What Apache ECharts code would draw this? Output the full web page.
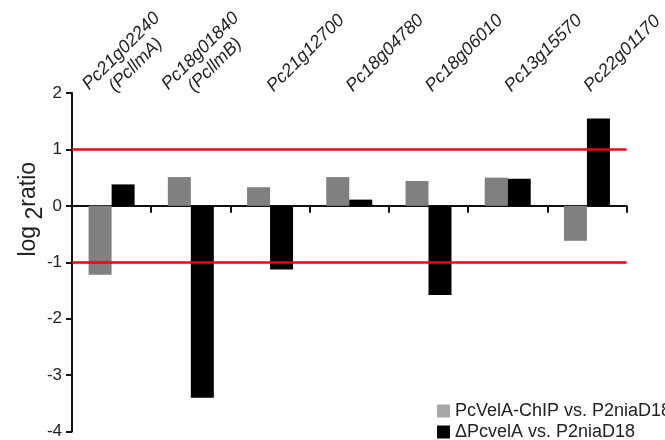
<!DOCTYPE html>
<html>
<head>
<meta charset="utf-8">
<script src="https://cdn.jsdelivr.net/npm/echarts@6/dist/echarts.min.js"></script>
<style>
  html, body { margin: 0; padding: 0; background: #fff; }
  #chart { width: 665px; height: 440px; }
</style>
</head>
<body>
<div id="chart"></div>
<script>
// genes (second line = alias)
var genes = ['Pc21g02240\n(PcllmA)', 'Pc18g01840\n(PcllmB)', 'Pc21g12700', 'Pc18g04780', 'Pc18g06010', 'Pc13g15570', 'Pc22g01170'];
var chipRatio = [-1.22, 0.51, 0.33, 0.51, 0.44, 0.50, -0.62];
var deltaRatio = [0.38, -3.40, -1.13, 0.11, -1.58, 0.48, 1.55];
var yTicks = [-4, -3, -2, -1, 0, 1, 2];
var cutoffs = [1, -1];
var seriesNames = ['PcVelA-ChIP vs. P2niaD18', '\u0394PcvelA vs. P2niaD18'];
var legendColors = ['#a6a6a6', '#000'];

var chart = echarts.init(document.getElementById('chart'));

var font = '"Liberation Sans", Arial, sans-serif';

// one legend box per entry so both rows fit under the plot
function legendRow(i, top) {
  return {
    orient: 'vertical',
    left: 437,
    top: top,
    padding: 0,
    itemWidth: 13,
    itemHeight: 13,
    icon: 'rect',
    textStyle: { fontSize: 18, color: '#222', fontFamily: font },
    data: [{ name: seriesNames[i], itemStyle: { color: legendColors[i] } }]
  };
}

chart.setOption({
  animation: false,
  textStyle: { fontFamily: font },
  grid: { left: 72, right: 25, top: 93, bottom: 6, containLabel: false },
  legend: [legendRow(0, 402), legendRow(1, 423)],
  xAxis: [
    {
      // label-only axis on top
      type: 'category',
      data: genes,
      position: 'top',
      axisLine: { show: false, onZero: false },
      axisTick: { show: false },
      axisLabel: {
        interval: 0,
        rotate: -45,
        margin: 4,
        fontSize: 18,
        fontStyle: 'italic',
        color: '#222',
        fontFamily: font,
        formatter: function (v) {
          var p = v.split('\n');
          if (p.length < 2) return '{s|' + p[0] + '}';
          // alias line stays on the tick, gene id above it, blank line keeps the block centred
          return '{a|' + p[0] + '}\n{b|' + p[1] + '}\n{e| }';
        },
        rich: {
          s: { fontSize: 18, fontStyle: 'italic', color: '#222', lineHeight: 20 },
          a: { fontSize: 18, fontStyle: 'italic', color: '#222', lineHeight: 20, padding: [0, 0, 0, -17] },
          b: { fontSize: 18, fontStyle: 'italic', color: '#222', lineHeight: 20 },
          e: { fontSize: 18, lineHeight: 20 }
        }
      }
    },
    {
      // zero line with boundary ticks
      type: 'category',
      data: genes,
      position: 'bottom',
      axisLine: { onZero: true, onZeroAxisIndex: 0, lineStyle: { color: '#111', width: 2 } },
      axisTick: { show: true, interval: 0, length: 7, lineStyle: { color: '#111', width: 2 } },
      axisLabel: { show: false }
    }
  ],
  yAxis: {
    type: 'value',
    min: yTicks[0],
    max: yTicks[yTicks.length - 1],
    interval: 1,
    splitLine: { show: false },
    axisLine: { show: true, lineStyle: { color: '#111', width: 2 } },
    axisTick: { show: true, length: 6, lineStyle: { color: '#111', width: 2 } },
    axisLabel: { fontSize: 17, color: '#222', margin: 10, fontFamily: font },
    name: '{a|log }{s|2}{a|ratio}',
    nameLocation: 'middle',
    nameMoveOverlap: false,
    nameGap: 25,
    nameRotate: 90,
    nameTextStyle: {
      fontSize: 23,
      color: '#222',
      padding: [0, 0, 0, 106],
      rich: {
        a: { fontSize: 23, color: '#222' },
        s: { fontSize: 23, color: '#222', padding: [14, 0, 0, 0] }
      }
    }
  },
  series: [
    {
      name: seriesNames[0],
      type: 'bar',
      xAxisIndex: 1,
      data: chipRatio,
      barWidth: 23,
      barGap: '0%',
      itemStyle: { color: '#808080' },
      markLine: {
        silent: true,
        symbol: 'none',
        label: { show: false },
        lineStyle: { color: '#e3000f', width: 2.5, type: 'solid' },
        data: cutoffs.map(function (c) { return { yAxis: c }; })
      }
    },
    {
      name: seriesNames[1],
      type: 'bar',
      xAxisIndex: 1,
      data: deltaRatio,
      barWidth: 23,
      barGap: '0%',
      itemStyle: { color: '#000' }
    }
  ]
});
</script>
</body>
</html>
